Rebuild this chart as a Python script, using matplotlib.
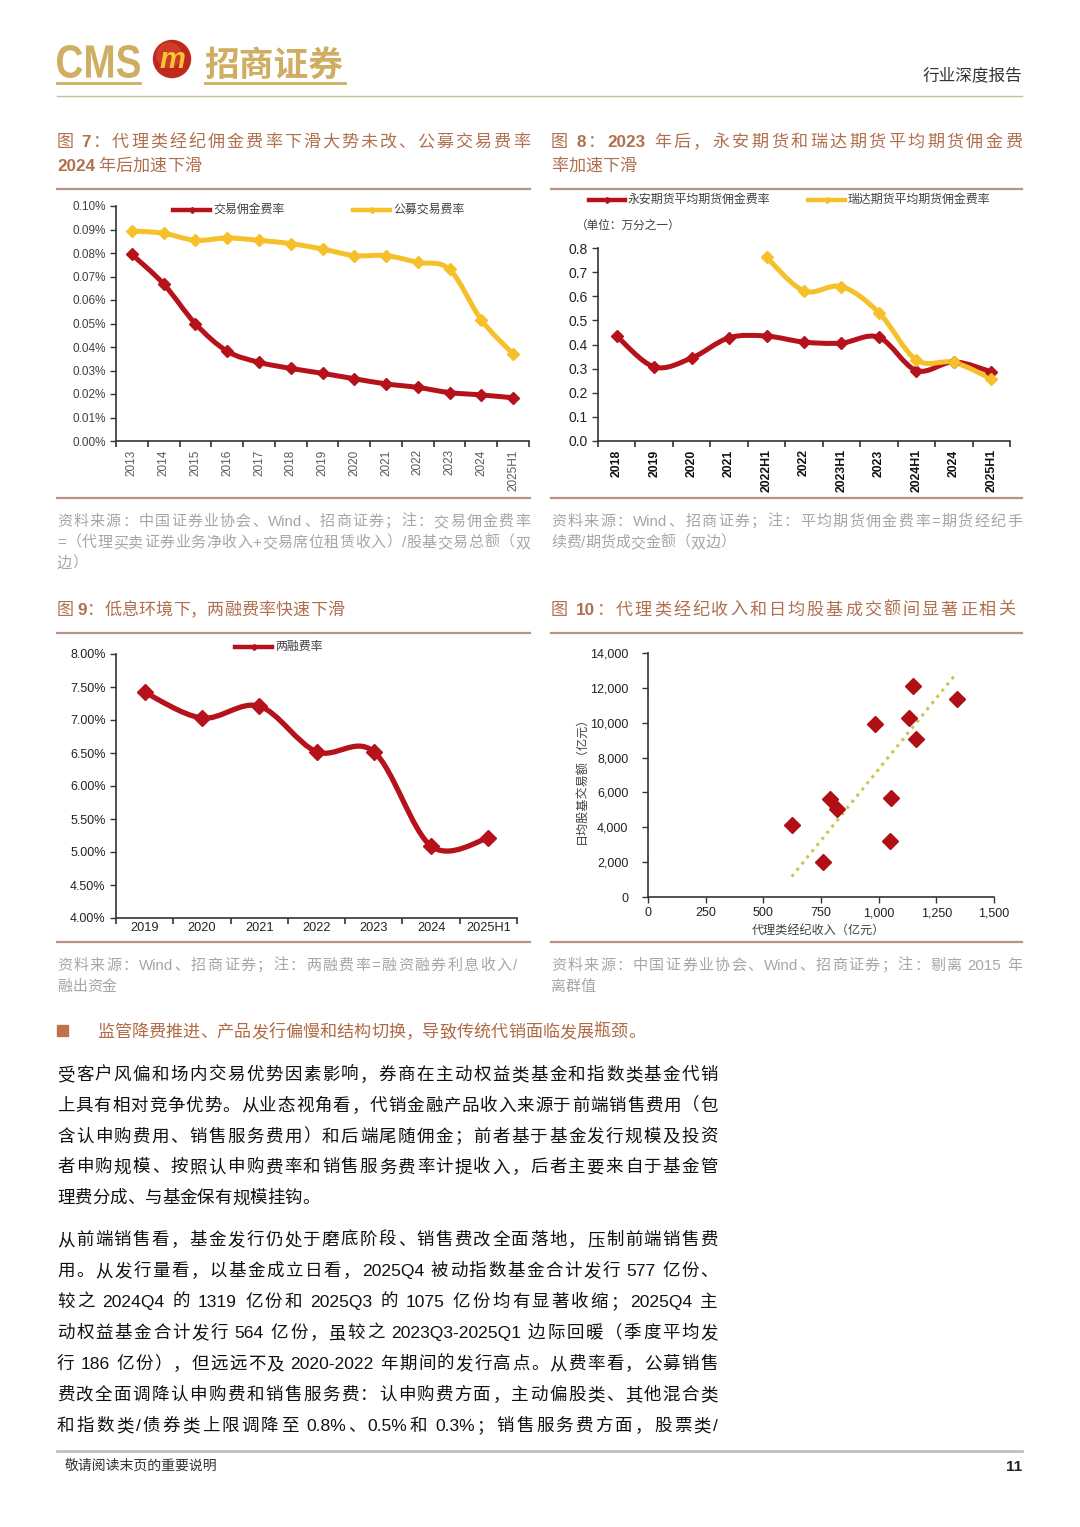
import re
import numpy as np
import matplotlib
matplotlib.use("Agg")
import matplotlib.pyplot as plt
from matplotlib.path import Path
from matplotlib.patches import PathPatch, Circle, Rectangle
from matplotlib.lines import Line2D
from matplotlib.textpath import TextPath
from matplotlib.font_manager import FontProperties
from matplotlib.transforms import Affine2D

plt.rcParams['font.family'] = ['Liberation Sans', 'Noto Sans CJK SC', 'DejaVu Sans']

# ---------------- data ----------------
years7 = ['2013', '2014', '2015', '2016', '2017', '2018', '2019', '2020',
          '2021', '2022', '2023', '2024', '2025H1']
commission_rate = [0.0794, 0.0668, 0.0499, 0.0382, 0.0335, 0.0309, 0.0288,
                   0.0265, 0.0243, 0.0228, 0.0206, 0.0196, 0.0184]
fund_trade_rate = [0.0894, 0.0884, 0.0854, 0.0864, 0.0854, 0.0840, 0.0817,
                   0.0789, 0.0789, 0.0760, 0.0730, 0.0515, 0.0370]

periods8 = ['2018', '2019', '2020', '2021', '2022H1', '2022', '2023H1', '2023',
            '2024H1', '2024', '2025H1']
yongan_rate = [0.435, 0.307, 0.344, 0.428, 0.435, 0.410, 0.406, 0.430,
               0.292, 0.328, 0.287]
ruida_rate = [np.nan, np.nan, np.nan, np.nan, 0.761, 0.622, 0.640, 0.532,
              0.336, 0.326, 0.258]

years9 = ['2019', '2020', '2021', '2022', '2023', '2024', '2025H1']
margin_rate = [7.42, 7.03, 7.21, 6.52, 6.52, 5.09, 5.21]

brokerage_income = [623, 760, 788, 820, 985, 1131, 1151, 1161, 1053, 1050, 1339]
daily_turnover = [4140, 2010, 5610, 5040, 9920, 10250, 12100, 9040, 5670, 3220, 11380]

# ---------------- colours ----------------
RED = '#B5121B'
YEL = '#F5C02A'
TITLE_C = '#B0704F'
RULE_C = '#B89486'
SRC_C = '#A6A6A6'
GOLD = '#CFAE63'

W, H = 1080, 1527
fig = plt.figure(figsize=(W / 100, H / 100), dpi=100)
bg = fig.add_axes([0, 0, 1, 1])
bg.set_xlim(0, W)
bg.set_ylim(H, 0)
bg.axis('off')
renderer = fig.canvas.get_renderer()


def jline(x0, y, s, size, color, x1=None, weight='normal', ascii_weight=None):
    """draw one text line, spread to x1 when given (justified)"""
    toks = re.findall(r'[A-Za-z0-9.,%\-]+| +|.', s)
    arts, widths = [], []
    for t in toks:
        if t.strip() == '':
            arts.append(None)
            widths.append(size * 0.28)
            continue
        wt = ascii_weight if (ascii_weight and t.isascii()) else weight
        a = bg.text(x0, y, t, fontsize=size, color=color, va='baseline',
                    ha='left', fontweight=wt)
        arts.append(a)
        widths.append(a.get_window_extent(renderer).width)
    gap = 0.0
    if x1 is not None and len(toks) > 1:
        gap = (x1 - x0 - sum(widths)) / (len(toks) - 1)
    x = x0
    for a, w in zip(arts, widths):
        if a is not None:
            a.set_x(x)
        x += w + gap


def rule(x0, x1, y, color=RULE_C, lw=1.6):
    bg.add_line(Line2D([x0, x1], [y, y], color=color, lw=lw))


def smooth(ax, xs, ys, color, lw):
    pts = np.column_stack([xs, ys])
    verts, codes = [pts[0]], [Path.MOVETO]
    n = len(pts)
    for i in range(n - 1):
        p0 = pts[i - 1] if i > 0 else pts[i]
        p1, p2 = pts[i], pts[i + 1]
        p3 = pts[i + 2] if i + 2 < n else pts[i + 1]
        verts += [p1 + (p2 - p0) / 6, p2 - (p3 - p1) / 6, p2]
        codes += [Path.CURVE4] * 3
    ax.add_patch(PathPatch(Path(verts, codes), fill=False, ec=color, lw=lw,
                           capstyle='round', joinstyle='round', zorder=2))


def legend_item(x0, x1, y, color, label, size=8.6):
    bg.add_line(Line2D([x0, x1], [y, y], color=color, lw=3.2))
    bg.plot([(x0 + x1) / 2], [y], marker='D', ms=3, color=color)
    bg.text(x1 + 3, y, label, fontsize=size, color='#404040', va='center',
            ha='left')


def cat_axes(ax, labels, tick_size, rot, color, weight='normal'):
    n = len(labels)
    ax.set_xlim(-0.5, n - 0.5)
    ax.set_xticks(range(n))
    ax.set_xticklabels(labels, rotation=rot, fontsize=tick_size, color=color,
                       fontweight=weight)
    ax.set_xticks(np.arange(-0.5, n), minor=True)
    ax.tick_params(axis='x', which='major', length=0, pad=6)
    ax.tick_params(axis='x', which='minor', length=4, width=1.2, color='#333333')
    ax.tick_params(axis='y', length=4, width=1, color='#333333')
    for s in ['top', 'right']:
        ax.spines[s].set_visible(False)
    for s in ['left', 'bottom']:
        ax.spines[s].set_color('#333333')
        ax.spines[s].set_linewidth(1.2)
    ax.set_facecolor('none')


def add_ax(l, t, r, b):
    return fig.add_axes([l / W, 1 - b / H, (r - l) / W, (b - t) / H])


# ---------------- header ----------------
tp = TextPath((0, 0), 'CMS', size=40,
              prop=FontProperties(family='Liberation Sans', weight='bold'))
ext = tp.get_extents()
sx, sy = 83 / ext.width, 33 / ext.height
tr = Affine2D().translate(-ext.x0, -ext.y0).scale(sx, -sy).translate(57, 78)
bg.add_patch(PathPatch(tr.transform_path(tp), color=GOLD, lw=0))
bg.add_patch(Circle((172, 59), 18.5, color='#C0281E'))
bg.add_patch(Circle((169, 55), 12, color='#D9482E', alpha=0.6))
bg.text(172, 60, 'm', fontsize=21, fontweight='bold', style='italic',
        color='#F6C533', ha='center', va='center')
bg.text(204, 76, '招商证券', fontsize=25, fontweight='bold', color=GOLD,
        va='baseline', family=['Noto Sans CJK SC'])
rule(57, 140, 83, GOLD, 2)
rule(205, 345, 83, GOLD, 2)
bg.text(1022, 80, '行业深度报告', fontsize=12, color='#333333', ha='right',
        va='baseline')
rule(57, 1022, 96, '#C9BC9E', 1)

# ---------------- figure 7 ----------------
jline(57, 147, '图 7：代理类经纪佣金费率下滑大势未改、公募交易费率', 12.3, TITLE_C,
      x1=530, ascii_weight='bold')
jline(57, 171, '2024 年后加速下滑', 12.3, TITLE_C, ascii_weight='bold')
rule(57, 530, 189)
ax7 = add_ax(116, 206, 529, 441)
x7 = np.arange(len(years7))
smooth(ax7, x7, commission_rate, RED, 3.6)
smooth(ax7, x7, fund_trade_rate, YEL, 3.6)
ax7.plot(x7, commission_rate, 'D', ms=6.5, color=RED, zorder=3)
ax7.plot(x7, fund_trade_rate, 'D', ms=6.5, color=YEL, zorder=3)
ax7.set_ylim(0, 0.10)
ax7.set_yticks(np.arange(0, 0.1001, 0.01))
ax7.set_yticklabels(['%.2f%%' % v for v in np.arange(0, 0.1001, 0.01)],
                    fontsize=8.5, color='#404040')
cat_axes(ax7, years7, 8.5, 90, '#595959')
legend_item(173, 210, 210, RED, '交易佣金费率')
legend_item(353, 390, 210, YEL, '公募交易费率')
rule(57, 530, 498)
jline(57, 526, '资料来源：中国证券业协会、Wind、招商证券；注：交易佣金费率', 10.8,
      SRC_C, x1=530)
jline(57, 547, '=（代理买卖证券业务净收入+交易席位租赁收入）/股基交易总额（双', 10.8,
      SRC_C, x1=530)
jline(57, 568, '边）', 10.8, SRC_C)

# ---------------- figure 8 ----------------
jline(551, 147, '图 8：2023 年后，永安期货和瑞达期货平均期货佣金费', 12.3, TITLE_C,
      x1=1022, ascii_weight='bold')
jline(551, 171, '率加速下滑', 12.3, TITLE_C)
rule(551, 1022, 189)
ax8 = add_ax(598, 248, 1010, 441)
x8 = np.arange(len(periods8))
r_arr = np.array(ruida_rate)
ok = ~np.isnan(r_arr)
smooth(ax8, x8, yongan_rate, RED, 3.6)
smooth(ax8, x8[ok], r_arr[ok], YEL, 3.6)
ax8.plot(x8, yongan_rate, 'D', ms=6.5, color=RED, zorder=3)
ax8.plot(x8[ok], r_arr[ok], 'D', ms=6.5, color=YEL, zorder=4)
ax8.set_ylim(0, 0.8)
ax8.set_yticks(np.arange(0, 0.801, 0.1))
ax8.set_yticklabels(['%.1f' % v for v in np.arange(0, 0.801, 0.1)],
                    fontsize=10, color='#222222')
cat_axes(ax8, periods8, 8.8, 90, '#111111', weight='bold')
legend_item(589, 625, 200, RED, '永安期货平均期货佣金费率')
legend_item(808, 845, 200, YEL, '瑞达期货平均期货佣金费率')
bg.text(576, 226, '（单位：万分之一）', fontsize=8.4, color='#404040', va='center')
rule(551, 1022, 498)
jline(551, 526, '资料来源：Wind、招商证券；注：平均期货佣金费率=期货经纪手', 10.8,
      SRC_C, x1=1022)
jline(551, 547, '续费/期货成交金额（双边）', 10.8, SRC_C)

# ---------------- figure 9 ----------------
jline(57, 615, '图 9：低息环境下，两融费率快速下滑', 12.3, TITLE_C, ascii_weight='bold')
rule(57, 530, 633)
ax9 = add_ax(116, 654, 517, 918)
x9 = np.arange(len(years9))
smooth(ax9, x9, margin_rate, RED, 3.8)
ax9.plot(x9, margin_rate, 'D', ms=8, color=RED, zorder=3)
ax9.set_ylim(4, 8)
ax9.set_yticks(np.arange(4, 8.01, 0.5))
ax9.set_yticklabels(['%.2f%%' % v for v in np.arange(4, 8.01, 0.5)],
                    fontsize=9, color='#222222')
cat_axes(ax9, years9, 9.2, 0, '#222222')
ax9.tick_params(axis='x', which='major', pad=3)
legend_item(235, 272, 647, RED, '两融费率')
rule(57, 530, 942)
jline(57, 970, '资料来源：Wind、招商证券；注：两融费率=融资融券利息收入/', 10.8,
      SRC_C, x1=517)
jline(57, 991, '融出资金', 10.8, SRC_C)

# ---------------- figure 10 ----------------
jline(551, 615, '图 10：代理类经纪收入和日均股基成交额间显著正相关', 12.3, TITLE_C,
      x1=1015, ascii_weight='bold')
rule(551, 1022, 633)
ax10 = add_ax(648, 653, 994, 897)
bx = np.array(brokerage_income, dtype=float)
by = np.array(daily_turnover, dtype=float)
# trend line (reduced major axis through the means)
slope = np.std(by) / np.std(bx)
xf = np.array([bx.min(), bx.max()])
ax10.plot(xf, by.mean() + slope * (xf - bx.mean()), ls=(0, (1, 1.6)), lw=2.2,
          color='#C9C84A', zorder=2)
ax10.plot(bx, by, 'D', ms=8.5, color='#B00F16', ls='none', zorder=3)
ax10.set_xlim(0, 1500)
ax10.set_ylim(0, 14000)
ax10.set_xticks(range(0, 1501, 250))
ax10.set_xticklabels(['{:,}'.format(v) for v in range(0, 1501, 250)],
                     fontsize=9, color='#222222')
ax10.set_yticks(range(0, 14001, 2000))
ax10.set_yticklabels(['{:,}'.format(v) for v in range(0, 14001, 2000)],
                     fontsize=9, color='#222222')
ax10.tick_params(axis='both', length=4, width=1, color='#333333')
ax10.tick_params(axis='y', pad=10)
for s in ['top', 'right']:
    ax10.spines[s].set_visible(False)
for s in ['left', 'bottom']:
    ax10.spines[s].set_color('#333333')
    ax10.spines[s].set_linewidth(1.2)
ax10.set_facecolor('none')
bg.text(818, 931, '代理类经纪收入（亿元）', fontsize=8.7, color='#404040',
        ha='center', va='center')
bg.text(582, 777, '日均股基交易额（亿元）', fontsize=8.7, color='#404040',
        ha='center', va='center', rotation=90)
rule(551, 1022, 942)
jline(551, 970, '资料来源：中国证券业协会、Wind、招商证券；注：剔离 2015 年', 10.8,
      SRC_C, x1=1022)
jline(551, 991, '离群值', 10.8, SRC_C)

# ---------------- section text ----------------
bg.add_patch(Rectangle((57, 1025), 11, 11, color='#C0704A'))
jline(97, 1037, '监管降费推进、产品发行偏慢和结构切换，导致传统代销面临发展瓶颈。',
      12.3, '#B06A45')

para1 = ['受客户风偏和场内交易优势因素影响，券商在主动权益类基金和指数类基金代销',
         '上具有相对竞争优势。从业态视角看，代销金融产品收入来源于前端销售费用（包',
         '含认申购费用、销售服务费用）和后端尾随佣金；前者基于基金发行规模及投资',
         '者申购规模、按照认申购费率和销售服务费率计提收入，后者主要来自于基金管',
         '理费分成、与基金保有规模挂钩。']
para2 = ['从前端销售看，基金发行仍处于磨底阶段、销售费改全面落地，压制前端销售费',
         '用。从发行量看，以基金成立日看，2025Q4 被动指数基金合计发行 577 亿份、',
         '较之 2024Q4 的 1319 亿份和 2025Q3 的 1075 亿份均有显著收缩；2025Q4 主',
         '动权益基金合计发行 564 亿份，虽较之 2023Q3-2025Q1 边际回暖（季度平均发',
         '行 186 亿份），但远远不及 2020-2022 年期间的发行高点。从费率看，公募销售',
         '费改全面调降认申购费和销售服务费：认申购费方面，主动偏股类、其他混合类',
         '和指数类/债券类上限调降至 0.8%、0.5%和 0.3%；销售服务费方面，股票类/']
for i, s in enumerate(para1):
    jline(57, 1080 + i * 30.8, s, 12.6, '#111111',
          x1=718 if i < len(para1) - 1 else None)
for i, s in enumerate(para2):
    jline(57, 1245 + i * 31, s, 12.6, '#111111', x1=718)

# ---------------- footer ----------------
rule(57, 1022, 1451, '#BFBFBF', 2)
bg.text(65, 1470, '敬请阅读末页的重要说明', fontsize=10, color='#333333',
        va='baseline')
bg.text(1022, 1471, '11', fontsize=11, fontweight='bold', color='#222222',
        ha='right', va='baseline')

fig.savefig('out.png', dpi=100, facecolor='white')
